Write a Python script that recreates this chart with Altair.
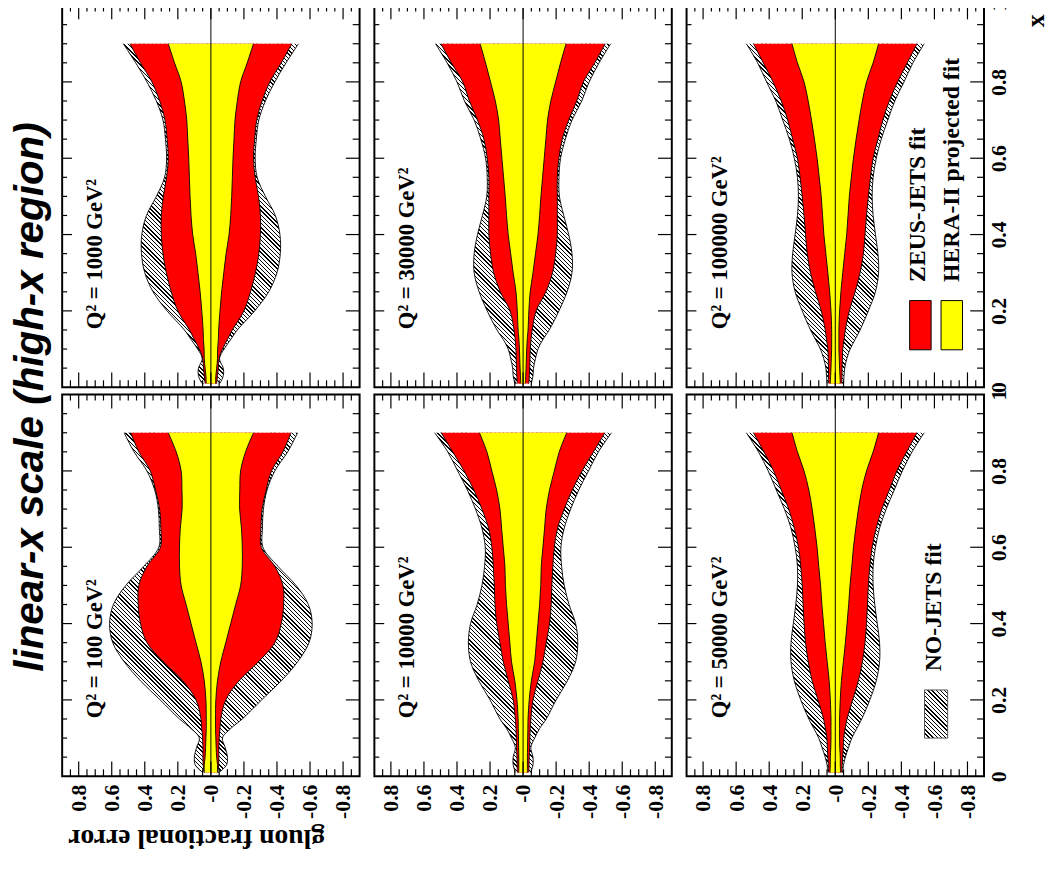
import math
import altair as alt
import pandas as pd

# Bjorken-x sampling points (vertical axis of each rotated panel)
XV = [0.01, 0.03, 0.05, 0.075, 0.1, 0.125, 0.15, 0.2, 0.25, 0.3, 0.35, 0.4,
      0.45, 0.5, 0.55, 0.6, 0.65, 0.7, 0.75, 0.8, 0.85, 0.9]

# half-widths of the fractional-error bands: NO-JETS (hatched), ZEUS-JETS (red), HERA-II (yellow)
NOJ_100 = [0.05, 0.095, 0.10, 0.087, 0.07, 0.12, 0.19, 0.307, 0.426, 0.525, 0.594, 0.613,
           0.59, 0.515, 0.406, 0.315, 0.312, 0.318, 0.34, 0.387, 0.465, 0.525]
ZEU_100 = [0.041, 0.047, 0.048, 0.048, 0.05, 0.055, 0.06, 0.09, 0.17, 0.288, 0.387, 0.426,
           0.44, 0.436, 0.387, 0.305, 0.303, 0.31, 0.335, 0.367, 0.436, 0.485]
HER_100 = [0.04, 0.04, 0.035, 0.032, 0.03, 0.028, 0.028, 0.03, 0.04, 0.06, 0.09, 0.12,
           0.15, 0.18, 0.19, 0.19, 0.185, 0.174, 0.175, 0.18, 0.21, 0.258]

NOJ_1000 = [0.055, 0.075, 0.075, 0.052, 0.08, 0.12, 0.16, 0.265, 0.35, 0.40, 0.42, 0.418,
            0.39, 0.33, 0.28, 0.268, 0.275, 0.29, 0.33, 0.387, 0.455, 0.53]
ZEU_1000 = [0.035, 0.04, 0.045, 0.05, 0.07, 0.10, 0.13, 0.20, 0.24, 0.27, 0.29, 0.30,
            0.30, 0.288, 0.268, 0.258, 0.265, 0.278, 0.31, 0.357, 0.426, 0.49]
HER_1000 = [0.028, 0.03, 0.035, 0.04, 0.041, 0.045, 0.047, 0.055, 0.065, 0.078, 0.092, 0.11,
            0.12, 0.126, 0.13, 0.134, 0.14, 0.146, 0.16, 0.18, 0.22, 0.258]

NOJ_10000 = [0.047, 0.06, 0.06, 0.047, 0.07, 0.10, 0.14, 0.20, 0.268, 0.318, 0.331, 0.318,
             0.278, 0.249, 0.233, 0.229, 0.249, 0.288, 0.337, 0.396, 0.456, 0.535]
ZEU_10000 = [0.035, 0.036, 0.037, 0.04, 0.041, 0.043, 0.047, 0.06, 0.09, 0.12, 0.14, 0.16,
             0.17, 0.174, 0.18, 0.189, 0.209, 0.249, 0.298, 0.357, 0.426, 0.495]
HER_10000 = [0.026, 0.026, 0.026, 0.027, 0.028, 0.029, 0.03, 0.037, 0.05, 0.07, 0.08, 0.09,
             0.10, 0.107, 0.11, 0.12, 0.13, 0.14, 0.16, 0.189, 0.219, 0.264]

NOJ_30000 = [0.05, 0.06, 0.063, 0.075, 0.09, 0.12, 0.158, 0.217, 0.266, 0.296, 0.296, 0.276,
             0.246, 0.22, 0.217, 0.227, 0.256, 0.296, 0.355, 0.40, 0.46, 0.53]
ZEU_30000 = [0.035, 0.038, 0.04, 0.042, 0.043, 0.048, 0.055, 0.079, 0.138, 0.178, 0.197, 0.207,
             0.207, 0.207, 0.207, 0.217, 0.237, 0.276, 0.325, 0.365, 0.434, 0.497]
HER_30000 = [0.014, 0.016, 0.018, 0.02, 0.022, 0.025, 0.03, 0.035, 0.043, 0.06, 0.075, 0.09,
             0.10, 0.108, 0.118, 0.128, 0.138, 0.148, 0.168, 0.197, 0.227, 0.26]

NOJ_50000 = [0.045, 0.05, 0.061, 0.08, 0.10, 0.13, 0.16, 0.209, 0.248, 0.268, 0.268, 0.254,
             0.239, 0.229, 0.229, 0.243, 0.268, 0.308, 0.357, 0.406, 0.465, 0.538]
ZEU_50000 = [0.04, 0.042, 0.045, 0.048, 0.051, 0.06, 0.071, 0.105, 0.14, 0.164, 0.18, 0.189,
             0.195, 0.2, 0.209, 0.223, 0.248, 0.282, 0.327, 0.373, 0.432, 0.495]
HER_50000 = [0.032, 0.03, 0.03, 0.027, 0.026, 0.026, 0.026, 0.03, 0.037, 0.049, 0.061, 0.071,
             0.081, 0.089, 0.10, 0.11, 0.124, 0.14, 0.16, 0.189, 0.229, 0.262]

NOJ_100000 = [0.05, 0.053, 0.057, 0.07, 0.09, 0.12, 0.15, 0.2, 0.243, 0.262, 0.258, 0.243,
              0.229, 0.223, 0.229, 0.248, 0.278, 0.318, 0.36, 0.416, 0.47, 0.538]
ZEU_100000 = [0.04, 0.041, 0.041, 0.043, 0.045, 0.053, 0.061, 0.085, 0.12, 0.15, 0.17, 0.18,
              0.189, 0.2, 0.213, 0.229, 0.258, 0.288, 0.327, 0.377, 0.436, 0.495]
HER_100000 = [0.03, 0.028, 0.026, 0.024, 0.022, 0.022, 0.022, 0.026, 0.034, 0.045, 0.057, 0.069,
              0.077, 0.085, 0.097, 0.11, 0.126, 0.144, 0.164, 0.189, 0.229, 0.262]

PANELS = [  # (label, nojets, zeus, hera) in display order: top row then bottom row
    ("Q² = 1000 GeV²", NOJ_1000, ZEU_1000, HER_1000),
    ("Q² = 30000 GeV²", NOJ_30000, ZEU_30000, HER_30000),
    ("Q² = 100000 GeV²", NOJ_100000, ZEU_100000, HER_100000),
    ("Q² = 100 GeV²", NOJ_100, ZEU_100, HER_100),
    ("Q² = 10000 GeV²", NOJ_10000, ZEU_10000, HER_10000),
    ("Q² = 50000 GeV²", NOJ_50000, ZEU_50000, HER_50000),
]

TITLE = "linear-x scale (high-x region)"
ERR_LABELS = [0.8, 0.6, 0.4, 0.2, 0, -0.2, -0.4, -0.6, -0.8]
X_LABELS = [0, 0.2, 0.4, 0.6, 0.8, 1]
X_MAJOR = [0.2, 0.4, 0.6, 0.8]
X_MINOR = [0.05, 0.1, 0.15, 0.25, 0.3, 0.35, 0.45, 0.5, 0.55, 0.65, 0.7, 0.75, 0.85, 0.9, 0.95]
E_MAJOR = [-0.8, -0.6, -0.4, -0.2, 0, 0.2, 0.4, 0.6, 0.8]
E_MINOR = [-0.85, -0.75, -0.7, -0.65, -0.55, -0.5, -0.45, -0.35, -0.3, -0.25, -0.15, -0.1,
           -0.05, 0.05, 0.1, 0.15, 0.25, 0.3, 0.35, 0.45, 0.5, 0.55, 0.65, 0.7, 0.75, 0.85]

W = 302
H = 387.5
E_DOM = [-0.9, 0.9]
PX_PER_E = W / (E_DOM[1] - E_DOM[0])

SERIF = "Liberation Serif"
RED = "#ff0000"
YELLOW = "#ffff00"


def hatch_fill(w_px, h_px, period=3.0, frac=0.33):
    r = h_px / w_px
    a = (1 + r) / (1 + r * r)
    n = max(1, int(round((w_px + h_px) / math.sqrt(2) / period)))
    stops = []
    for k in range(n):
        s0, s1, s2 = k / n, (k + frac) / n, (k + 1) / n
        stops += [{"offset": s0, "color": "#000000"}, {"offset": s1, "color": "#000000"},
                  {"offset": s1, "color": "#ffffff"}, {"offset": s2, "color": "#ffffff"}]
    return {"gradient": "linear", "x1": 0, "y1": 1, "x2": a, "y2": 1 - a * r, "stops": stops}


def panel(idx):
    label, noj, zeu, her = PANELS[idx]
    row, col = divmod(idx, 3)

    xs = alt.Scale(domain=E_DOM, reverse=True, nice=False, zero=False)
    ys = alt.Scale(domain=[0, 1], nice=False, zero=False)

    if row == 1:
        xaxis = alt.Axis(
            orient="bottom", values=ERR_LABELS,
            labelExpr="datum.value == 0 ? '-0' : (datum.value < 0 ? '-' : '') + format(abs(datum.value), '.1f')",
            labelAngle=270, labelAlign="right", labelBaseline="middle", labelPadding=8,
            labelFont=SERIF, labelFontWeight="bold", labelFontSize=22, labelColor="black",
            labelOverlap=False, labelFlush=False, labelBound=False,
            ticks=False, domain=False, grid=False,
            title="gluon fractional error" if col == 0 else None,
            titleAngle=180, titleX=136, titleY=62, titleAlign="center", titleBaseline="middle",
            titleFont=SERIF, titleFontWeight="bold", titleFontSize=28, titleColor="black",
        )
    else:
        xaxis = None
    if col == 2:
        yaxis = alt.Axis(
            orient="right", values=X_LABELS, labelExpr="format(datum.value, '.1~f')",
            labelAngle=270, labelAlign="center", labelBaseline="top", labelPadding=5,
            labelFont=SERIF, labelFontWeight="bold", labelFontSize=22, labelColor="black",
            labelOverlap=False, labelFlush=False, labelBound=False,
            ticks=False, domain=False, grid=False,
            title="x" if row == 0 else None,
            titleAngle=270, titleX=52, titleY=15, titleAlign="center", titleBaseline="middle",
            titleFont=SERIF, titleFontWeight="bold", titleFontSize=26, titleColor="black",
        )
    else:
        yaxis = None

    def X(f):
        return alt.X(f, type="quantitative", scale=xs, axis=xaxis)

    def Y(f):
        return alt.Y(f, type="quantitative", scale=ys, axis=yaxis)

    df = pd.DataFrame({"xv": XV, "noj": noj, "zeu": zeu, "her": her})
    df["noj_lo"] = -df["noj"]
    df["zeu_lo"] = -df["zeu"]
    df["her_lo"] = -df["her"]

    rows = []
    for band in ["noj", "zeu", "her"]:
        for sgn in (1, -1):
            for xv, v in zip(XV, df[band]):
                rows.append({"xv": xv, "val": sgn * v, "key": f"{band}{sgn}"})
    lines_df = pd.DataFrame(rows)

    w_px = 2 * max(noj) * PX_PER_E
    h_px = (XV[-1] - XV[0]) * H
    base = alt.Chart(df)
    interp = "catmull-rom"

    layers = [
        base.mark_area(orient="horizontal", interpolate=interp, fill=hatch_fill(w_px, h_px))
        .encode(x=X("noj_lo"), x2="noj", y=Y("xv")),
        base.mark_area(orient="horizontal", interpolate=interp, fill=RED)
        .encode(x=X("zeu_lo"), x2="zeu", y=Y("xv")),
        base.mark_area(orient="horizontal", interpolate=interp, fill=YELLOW)
        .encode(x=X("her_lo"), x2="her", y=Y("xv")),
        alt.Chart(lines_df).mark_line(interpolate=interp, color="black", strokeWidth=0.9)
        .encode(x=X("val"), y=Y("xv"), detail="key:N", order="xv:Q"),
        alt.Chart(pd.DataFrame({"e": [0]})).mark_rule(color="black", strokeWidth=1)
        .encode(x=X("e")),
    ]

    def hticks(vals, x0, x1):
        return alt.Chart(pd.DataFrame({"t": vals})).mark_rule(color="black", strokeWidth=1.2).encode(
            y=Y("t"), x=alt.value(x0), x2=alt.value(x1))

    def vticks(vals, y0, y1):
        return alt.Chart(pd.DataFrame({"t": vals})).mark_rule(color="black", strokeWidth=1.2).encode(
            x=X("t"), y=alt.value(y0), y2=alt.value(y1))

    layers += [
        hticks(X_MAJOR, 0, 10), hticks(X_MINOR, 0, 5),
        hticks(X_MAJOR, W - 14, W), hticks(X_MINOR, W - 7, W),
        vticks(E_MAJOR, H - 15, H), vticks(E_MINOR, H - 7, H),
        vticks(E_MAJOR, 0, 14), vticks(E_MINOR, 0, 6),
    ]

    lab = pd.DataFrame({"e": [0.70], "xv": [0.152], "t": [label]})
    layers.append(
        alt.Chart(lab).mark_text(angle=270, align="left", baseline="middle", font=SERIF,
                                 fontWeight="bold", fontSize=23, color="black")
        .encode(x=X("e"), y=Y("xv"), text="t:N"))

    legend_text_style = dict(angle=270, align="left", baseline="middle", font=SERIF,
                             fontWeight="bold", fontSize=24, color="black")
    if idx == 2:  # ZEUS-JETS / HERA-II legend
        boxes = pd.DataFrame({"e0": [-0.45, -0.64], "e1": [-0.58, -0.77],
                              "x0": [0.098, 0.098], "x1": [0.227, 0.227],
                              "k": ["ZEUS-JETS fit", "HERA-II projected fit"]})
        layers.append(
            alt.Chart(boxes).mark_rect(stroke="black", strokeWidth=1).encode(
                x=X("e0"), x2="e1", y=Y("x0"), y2="x1",
                fill=alt.Fill("k:N", scale=alt.Scale(domain=["ZEUS-JETS fit", "HERA-II projected fit"],
                                                     range=[RED, YELLOW]), legend=None)))
        texts = pd.DataFrame({"e": [-0.50, -0.71], "xv": [0.276, 0.276],
                              "t": ["ZEUS-JETS fit", "HERA-II projected fit"]})
        layers.append(alt.Chart(texts).mark_text(**legend_text_style)
                      .encode(x=X("e"), y=Y("xv"), text="t:N"))
    if idx == 5:  # NO-JETS legend
        bw = 0.14 * PX_PER_E
        bh = 0.126 * H
        box = pd.DataFrame({"e0": [-0.54], "e1": [-0.68], "x0": [0.10], "x1": [0.226]})
        layers.append(
            alt.Chart(box).mark_rect(stroke="#555555", strokeWidth=1, fill=hatch_fill(bw, bh))
            .encode(x=X("e0"), x2="e1", y=Y("x0"), y2="x1"))
        texts = pd.DataFrame({"e": [-0.60], "xv": [0.275], "t": ["NO-JETS fit"]})
        layers.append(alt.Chart(texts).mark_text(**legend_text_style)
                      .encode(x=X("e"), y=Y("xv"), text="t:N"))
    if idx == 3:  # figure title, drawn beside the lower-left panel
        layers.append(
            alt.Chart(pd.DataFrame({"t": [TITLE]})).mark_text(
                angle=270, align="center", baseline="middle", font="Liberation Sans",
                fontSize=41, fontStyle="italic", fontWeight="bold", color="black")
            .encode(x=alt.value(-31), y=alt.value(2.5), text="t:N"))

    return alt.layer(*layers).properties(width=W, height=H)


chart = alt.concat(
    *[panel(i) for i in range(6)],
    columns=3,
    spacing={"row": 7, "column": 15},
    bounds="flush",
).properties(
    padding={"left": 1, "top": -16, "right": 0, "bottom": 0},
    background="white",
).configure_view(stroke="black", strokeWidth=2)

chart.save("out.html", embed_options={"renderer": "svg", "actions": False})
